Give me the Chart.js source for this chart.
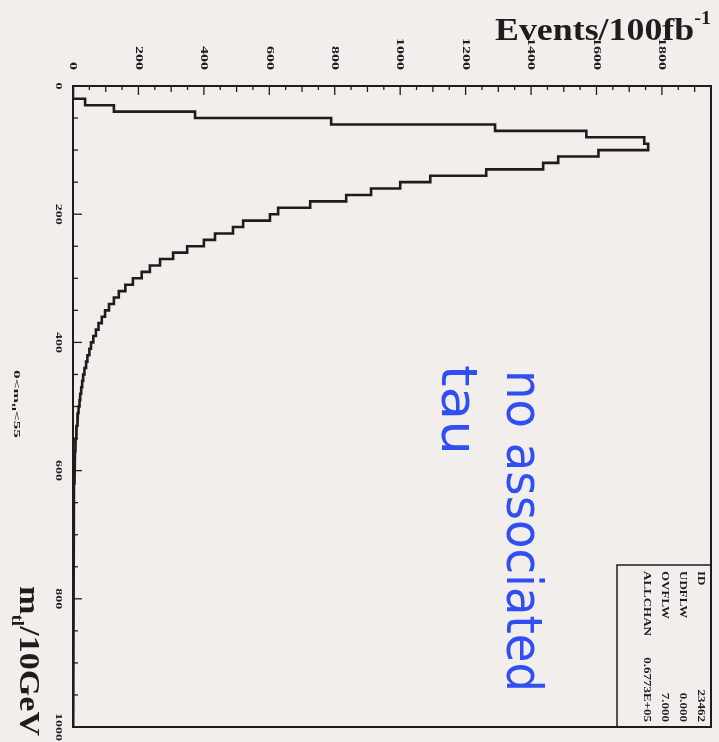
<!DOCTYPE html>
<html>
<head>
<meta charset="utf-8">
<script src="https://cdn.jsdelivr.net/npm/chart.js@4.4.0/dist/chart.umd.min.js"></script>
<style>
  html, body { margin: 0; padding: 0; background: #f2eeeb; }
  #wrap { width: 719px; height: 742px; }
</style>
</head>
<body>
<div id="wrap"><canvas id="histo" width="719" height="742"></canvas></div>
<script>
// m_tl spectrum, 10 GeV bins from 0 to 1000
const binWidth = 10;
const counts = [
  0, 0, 37, 125, 373, 789, 1290, 1569, 1746, 1758,
  1606, 1483, 1437, 1263, 1092, 1000, 911, 835, 725, 627,
  602, 520, 489, 434, 400, 349, 306, 266, 235, 210,
  183, 160, 140, 125, 110, 98, 88, 78, 70, 62,
  55, 50, 44, 40, 35, 31, 28, 25, 22, 20,
  17, 15, 13, 11, 10, 8, 7, 6, 5, 5,
  4, 4, 3, 3, 3, 2, 2, 2, 2, 1,
  1, 1, 1, 1, 1, 0, 1, 0, 1, 0,
  0, 0, 0, 0, 0, 0, 0, 0, 0, 0,
  0, 0, 0, 0, 0, 0, 0, 0, 0, 0
];
const eventTicks = [0, 200, 400, 600, 800, 1000, 1200, 1400, 1600, 1800];
const massTicks = [0, 200, 400, 600, 800, 1000];
const statNames = ['ID', 'UDFLW', 'OVFLW', 'ALLCHAN'];
const statValues = ['23462', '0.000', '7.000', '0.6773E+05'];

const ink = '#221b1d';
const pen = '#2f4ff2';
const serif = '"Liberation Serif", "DejaVu Serif", serif';

// histogram outline: each bin is a vertical run at its count
const outline = [{ x: 0, y: 0 }];
counts.forEach((c, i) => {
  outline.push({ x: c, y: i * binWidth });
  outline.push({ x: c, y: (i + 1) * binWidth });
});

// draws a list of text runs one after another, turned by angle
const drawRuns = (ctx, runs, x, y, angle, opts = {}) => {
  const squash = opts.squash || 1;
  ctx.save();
  ctx.translate(x, y);
  ctx.rotate(angle);
  let total = 0;
  runs.forEach((r) => { ctx.font = r.font; total += ctx.measureText(r.t).width; });
  const sx = opts.fit ? opts.fit / total : 1;
  ctx.scale(sx, squash);
  ctx.textBaseline = opts.baseline || 'alphabetic';
  ctx.fillStyle = opts.color || ink;
  let cur = 0;
  if (opts.align === 'right') cur = -total;
  if (opts.align === 'center') cur = -total / 2;
  runs.forEach((r) => {
    ctx.font = r.font;
    ctx.textAlign = 'left';
    ctx.fillText(r.t, cur, r.dy || 0);
    cur += ctx.measureText(r.t).width;
  });
  ctx.restore();
};

const down = Math.PI / 2;

const paperAxes = {
  id: 'paperAxes',
  afterDraw(chart) {
    const { ctx, chartArea: a, scales: { x, y } } = chart;
    ctx.save();
    ctx.strokeStyle = ink;

    // frame
    ctx.lineWidth = 2;
    ctx.strokeRect(a.left, a.top, a.right - a.left, a.bottom - a.top);

    // ticks on the event axis (top), pointing inwards
    ctx.lineWidth = 1.3;
    for (let v = 0; v <= x.max; v += 50) {
      const px = x.getPixelForValue(v);
      const len = v % 200 === 0 ? 9 : v % 100 === 0 ? 6 : 4;
      ctx.beginPath();
      ctx.moveTo(px, a.top);
      ctx.lineTo(px, a.top + len);
      ctx.stroke();
    }
    // ticks on the mass axis (left)
    for (let m = 0; m <= y.max; m += 50) {
      const py = y.getPixelForValue(m);
      const len = m % 200 === 0 ? 9 : 5;
      ctx.beginPath();
      ctx.moveTo(a.left, py);
      ctx.lineTo(a.left + len, py);
      ctx.stroke();
    }

    eventTicks.forEach((v) => {
      drawRuns(ctx, [{ t: String(v), font: `bold 16px ${serif}` }],
        x.getPixelForValue(v), 70, down, { align: 'right', baseline: 'middle', squash: 0.66 });
    });
    massTicks.forEach((m) => {
      drawRuns(ctx, [{ t: String(m), font: `bold 14px ${serif}` }],
        58, y.getPixelForValue(m), down, { align: 'center', baseline: 'middle', squash: 0.66 });
    });

    // axis titles
    drawRuns(ctx, [
      { t: 'Events/100fb', font: `bold 32px ${serif}` },
      { t: '-1', font: `bold 18px ${serif}`, dy: -16 }
    ], 495, 40, 0, { fit: 216 });
    drawRuns(ctx, [
      { t: 'm', font: `bold 30px ${serif}` },
      { t: 'tl', font: `bold 17px ${serif}`, dy: 8 },
      { t: '/10GeV', font: `bold 30px ${serif}` }
    ], 20, 586, down, { fit: 150 });
    drawRuns(ctx, [
      { t: '0<m', font: `bold 11px ${serif}` },
      { t: 'tl', font: `bold 8px ${serif}`, dy: 3 },
      { t: '<55', font: `bold 11px ${serif}` }
    ], 14, 370, down, { fit: 68, squash: 0.8 });

    // statistics box
    ctx.lineWidth = 1.5;
    ctx.beginPath();
    ctx.moveTo(617, a.bottom);
    ctx.lineTo(617, 565);
    ctx.lineTo(a.right, 565);
    ctx.stroke();
    const rows = [701, 683, 665, 647];
    statNames.forEach((n, i) => {
      drawRuns(ctx, [{ t: n, font: `bold 13px ${serif}` }], rows[i], 571, down,
        { baseline: 'middle', squash: 0.8 });
      drawRuns(ctx, [{ t: statValues[i], font: `bold 13px ${serif}` }], rows[i], 722, down,
        { align: 'right', baseline: 'middle', squash: 0.8 });
    });

    // pen note
    drawRuns(ctx, [{ t: 'no associated', font: `50px "DejaVu Sans", sans-serif` }],
      507, 370, down, { fit: 322, color: pen });
    drawRuns(ctx, [{ t: 'tau', font: `50px "DejaVu Sans", sans-serif` }],
      442, 365, down, { fit: 90, color: pen });

    ctx.restore();
  }
};

const chart = new Chart(document.getElementById('histo'), {
  type: 'scatter',
  data: {
    datasets: [{
      data: outline,
      showLine: true,
      borderColor: ink,
      borderWidth: 2.6,
      pointRadius: 0,
      fill: false
    }]
  },
  options: {
    responsive: false,
    animation: false,
    layout: { padding: { left: 73, top: 86, right: 8, bottom: 15 } },
    plugins: { legend: { display: false }, tooltip: { enabled: false } },
    scales: {
      x: { type: 'linear', min: 0, max: 1950, display: false },
      y: { type: 'linear', min: 0, max: 1000, reverse: true, display: false }
    }
  },
  plugins: [paperAxes]
});
</script>
</body>
</html>
